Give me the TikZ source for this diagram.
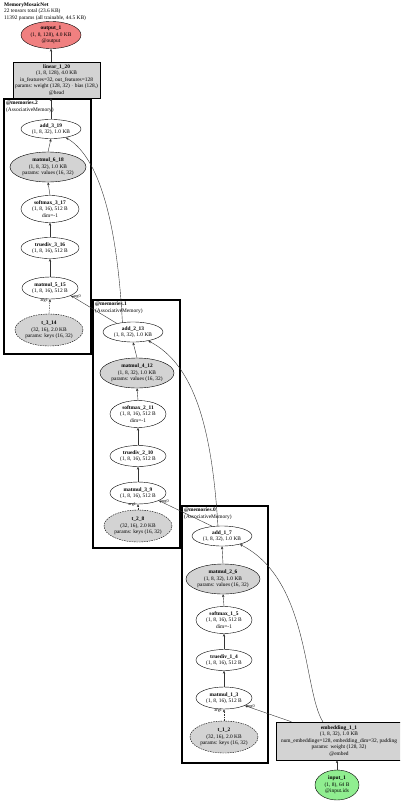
\documentclass[tikz,border=0pt]{standalone}
\usepackage{fontspec}
\setmainfont{Liberation Serif}
\usetikzlibrary{shapes.geometric,arrows.meta}
\definecolor{pinkfill}{HTML}{F08080}
\definecolor{greenfill}{HTML}{90EE90}
\definecolor{grayfill}{HTML}{D3D3D3}
\definecolor{edgecol}{HTML}{333333}
\begin{document}
\begin{tikzpicture}[x=1pt,y=-1pt,font=\fontsize{5.4}{6.5}\selectfont,
  ell/.style={ellipse,draw=black,line width=0.4pt,inner xsep=-8pt,inner ysep=-3pt,align=center},
  grayell/.style={ell,fill=grayfill},
  dashell/.style={ell,fill=grayfill,dash pattern=on 1.5pt off 1pt},
  rectnode/.style={rectangle,draw=black,line width=0.4pt,fill=grayfill,inner sep=0pt,align=center},
  cluster/.style={draw=black,line width=1.6pt},
  clabel/.style={anchor=north west,inner sep=0pt,align=left},
  edge/.style={draw=edgecol,line width=0.4pt,-{Stealth[length=3pt,width=2.4pt]}},
  dedge/.style={edge,dash pattern=on 1.5pt off 1pt},
  elabel/.style={font=\fontsize{4.2}{4.2}\selectfont,inner sep=0.3pt}
]
\useasboundingbox (0,0) rectangle (400,803);
\clip (0,0) rectangle (400,803);

% title
\node[clabel] (title) at (4,2.5) {\textbf{MemoryMosaicNet}\\22 tensors total (23.6 KB)\\11392 params (all trainable, 44.5 KB)};

% top nodes
\node[ell,fill=pinkfill,minimum width=60pt,minimum height=27pt] (out) at (51,35) {\textbf{output\_1}\\(1, 8, 128), 4.0 KB\\@output};
\node[rectnode,minimum width=87pt,minimum height=36pt] (lin) at (56.5,80) {\textbf{linear\_1\_20}\\(1, 8, 128), 4.0 KB\\in\_features=32, out\_features=128\\params: weight (128, 32) $\cdot$ bias (128,)\\@head};

% clusters
\draw[cluster] (4,99) rectangle (91,354);
\node[clabel] (lab2) at (6,101) {\textbf{@memories.2}\\(AssociativeMemory)};
\draw[cluster] (93,300) rectangle (180,548);
\node[clabel] (lab1) at (95,302) {\textbf{@memories.1}\\(AssociativeMemory)};
\draw[cluster] (182,506) rectangle (268,763);
\node[clabel] (lab0) at (184,508) {\textbf{@memories.0}\\(AssociativeMemory)};

% cluster 2
\node[ell,minimum width=60pt,minimum height=19pt] (add319) at (51,129) {\textbf{add\_3\_19}\\(1, 8, 32), 1.0 KB};
\node[grayell,minimum width=76pt,minimum height=30pt] (mm618) at (48,167) {\textbf{matmul\_6\_18}\\(1, 8, 32), 1.0 KB\\params: values (16, 32)};
\node[ell,minimum width=58pt,minimum height=27pt] (sm317) at (50,209) {\textbf{softmax\_3\_17}\\(1, 8, 16), 512 B\\dim=-1};
\node[ell,minimum width=58pt,minimum height=21pt] (td316) at (50,248) {\textbf{truediv\_3\_16}\\(1, 8, 16), 512 B};
\node[ell,minimum width=56pt,minimum height=22pt] (mm515) at (50,288) {\textbf{matmul\_5\_15}\\(1, 8, 16), 512 B};
\node[dashell,minimum width=68pt,minimum height=32pt] (t314) at (49,330) {\textbf{t\_3\_14}\\(32, 16), 2.0 KB\\params: keys (16, 32)};

% cluster 1
\node[ell,minimum width=60pt,minimum height=20pt] (add213) at (133,332) {\textbf{add\_2\_13}\\(1, 8, 32), 1.0 KB};
\node[grayell,minimum width=74pt,minimum height=30pt] (mm412) at (137,373) {\textbf{matmul\_4\_12}\\(1, 8, 32), 1.0 KB\\params: values (16, 32)};
\node[ell,minimum width=56pt,minimum height=27pt] (sm211) at (138,414) {\textbf{softmax\_2\_11}\\(1, 8, 16), 512 B\\dim=-1};
\node[ell,minimum width=56pt,minimum height=21pt] (td210) at (138,456) {\textbf{truediv\_2\_10}\\(1, 8, 16), 512 B};
\node[ell,minimum width=56pt,minimum height=22pt] (mm39) at (138,493) {\textbf{matmul\_3\_9}\\(1, 8, 16), 512 B};
\node[dashell,minimum width=68pt,minimum height=32pt] (t28) at (138,526) {\textbf{t\_2\_8}\\(32, 16), 2.0 KB\\params: keys (16, 32)};

% cluster 0
\node[ell,minimum width=60pt,minimum height=20pt] (add17) at (222,536) {\textbf{add\_1\_7}\\(1, 8, 32), 1.0 KB};
\node[grayell,minimum width=74pt,minimum height=30pt] (mm26) at (223,579) {\textbf{matmul\_2\_6}\\(1, 8, 32), 1.0 KB\\params: values (16, 32)};
\node[ell,minimum width=56pt,minimum height=27pt] (sm15) at (224,620) {\textbf{softmax\_1\_5}\\(1, 8, 16), 512 B\\dim=-1};
\node[ell,minimum width=56pt,minimum height=21pt] (td14) at (224,660) {\textbf{truediv\_1\_4}\\(1, 8, 16), 512 B};
\node[ell,minimum width=56pt,minimum height=22pt] (mm13) at (224,698) {\textbf{matmul\_1\_3}\\(1, 8, 16), 512 B};
\node[dashell,minimum width=68pt,minimum height=32pt] (t12) at (224,737) {\textbf{t\_1\_2}\\(32, 16), 2.0 KB\\params: keys (16, 32)};

% embedding and input
\node[rectnode,minimum width=126pt,minimum height=38pt] (emb) at (339,741) {\textbf{embedding\_1\_1}\\(1, 8, 32), 1.0 KB\\num\_embeddings=128, embedding\_dim=32, padding\\params: weight (128, 32)\\@embed};
\node[ell,fill=greenfill,minimum width=44pt,minimum height=30pt] (inp) at (337,785) {\textbf{input\_1}\\(1, 8), 64 B\\@input.ids};

% edges: top
\draw[edge] (add319.north) -- (add319.north |- lin.south);
\draw[edge] (out.south |- lin.north) -- (out.south);

% cluster internal edges
\foreach \t/\m/\d/\s/\p/\a in {t314/mm515/td316/sm317/mm618/add319, t28/mm39/td210/sm211/mm412/add213, t12/mm13/td14/sm15/mm26/add17}{
  \draw[dedge] (\t.north) -- (\m.south) node[elabel,anchor=east,pos=0.9,xshift=-1.5pt] {arg1};
  \draw[edge] (\m.north) -- (\d.south);
  \draw[edge] (\d.north) -- (\s.south);
  \draw[edge] (\s.north) -- (\p.south);
  \draw[edge] (\p.north) -- (\a.south);
}

% cross-cluster edges
\draw[edge] (add213.152) -- (mm515.-20) node[elabel,anchor=north west,pos=1,xshift=2pt,yshift=1pt] {arg0};
\draw[edge] (add213.138) .. controls (118,240) and (104,160) .. (add319.-30);
\draw[edge] (add17.135) -- (mm39.-20) node[elabel,anchor=north west,pos=1,xshift=2pt,yshift=1pt] {arg0};
\draw[edge] (add17.112) .. controls (212,430) and (195,365) .. (add213.-30);
\draw[edge] (emb.158) -- (mm13.-20) node[elabel,anchor=north west,pos=1,xshift=2pt,yshift=1pt] {arg0};
\draw[edge] (emb.130) .. controls (303,690) and (310,580) .. (add17.-25);
\draw[edge] (inp.north) -- (inp.north |- emb.south);
\end{tikzpicture}
\end{document}
